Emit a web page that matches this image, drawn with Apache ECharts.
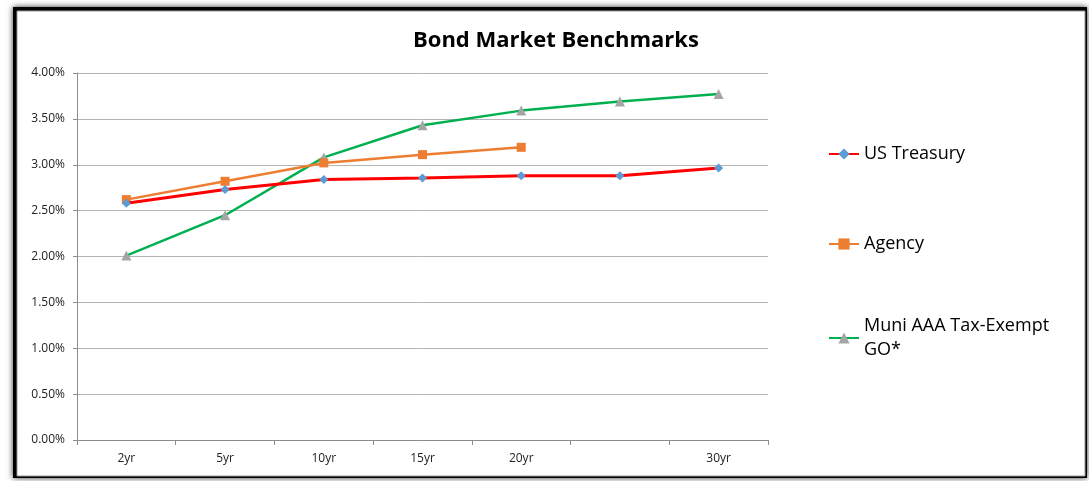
<!DOCTYPE html>
<html>
<head>
<meta charset="utf-8">
<script src="https://cdn.jsdelivr.net/npm/echarts@6/dist/echarts.min.js"></script>
<style>
html,body{margin:0;padding:0;background:#fff;}
#chart{width:1089px;height:481px;}
</style>
</head>
<body>
<div id="chart"></div>
<script>
const categories = ['2yr', '5yr', '10yr', '15yr', '20yr', '', '30yr'];
const usTreasury = [2.58, 2.73, 2.84, 2.855, 2.88, 2.88, 2.965];
const agency = [2.62, 2.82, 3.02, 3.11, 3.19, null, null];
const muni = [2.01, 2.45, 3.08, 3.43, 3.59, 3.69, 3.77];
const seriesNames = ['US Treasury', 'Agency', 'Muni AAA Tax-Exempt GO*'];
const yTicks = [0, 0.5, 1, 1.5, 2, 2.5, 3, 3.5, 4];

const FONT = 'Open Sans';
const legendText = {fontFamily: FONT, fontSize: 18, color: '#000', lineHeight: 24};
const chart = echarts.init(document.getElementById('chart'), null, {renderer: 'canvas'});
chart.setOption({
  animation: false,
  backgroundColor: '#fff',
  graphic: [
    {type: 'rect', z: -10, silent: true,
     shape: {x: 13, y: 7, width: 1074, height: 471},
     style: {fill: '#000', shadowBlur: 6, shadowColor: 'rgba(0,0,0,0.8)'}},
    {type: 'rect', z: -9, silent: true,
     shape: {x: 17, y: 11, width: 1068, height: 465},
     style: {fill: '#fff', stroke: '#9a9a9a', lineWidth: 1}}
  ],
  title: {
    text: 'Bond Market Benchmarks',
    left: 408, top: 25,
    textStyle: {fontFamily: FONT, fontWeight: 'bold', fontSize: 22, color: '#000'}
  },
  legend: [{
    orient: 'vertical',
    left: 823, top: 137,
    itemGap: 66,
    itemWidth: 30, itemHeight: 14,
    textStyle: legendText,
    data: [{name: seriesNames[0]}, {name: seriesNames[1]}]
  }, {
    orient: 'vertical',
    left: 823, top: 297,
    itemWidth: 30, itemHeight: 14,
    textStyle: legendText,
    data: [{name: seriesNames[2], textStyle: {padding: [24, 0, 0, 0]}}],
    formatter: function (n) { return 'Muni AAA Tax-Exempt\nGO*'; }
  }],
  grid: {left: 77, right: 321, top: 73, bottom: 41, containLabel: false},
  xAxis: {
    type: 'category',
    data: categories,
    boundaryGap: true,
    axisLine: {lineStyle: {color: '#8c8c8c'}},
    axisTick: {show: true, length: 5, lineStyle: {color: '#8c8c8c'}},
    axisLabel: {fontFamily: FONT, fontSize: 12, color: '#222', margin: 13}
  },
  yAxis: {
    type: 'value',
    min: 0, max: 4, interval: 0.5,
    axisLine: {show: true, lineStyle: {color: '#8c8c8c'}},
    axisTick: {show: true, length: 4, lineStyle: {color: '#8c8c8c'}},
    splitLine: {lineStyle: {color: '#b4b4b4'}},
    axisLabel: {fontFamily: FONT, fontSize: 12, color: '#222', margin: 12,
      formatter: v => v.toFixed(2) + '%'}
  },
  series: [
    {name: seriesNames[0], type: 'line', data: usTreasury,
     lineStyle: {color: '#ff0000', width: 3},
     itemStyle: {color: '#5b9bd5'},
     symbol: 'diamond', symbolSize: 9, showAllSymbol: true, z: 4},
    {name: seriesNames[1], type: 'line', data: agency,
     lineStyle: {color: '#ed7d31', width: 2.5},
     itemStyle: {color: '#ed7d31'},
     symbol: 'rect', symbolSize: 9, showAllSymbol: true, z: 3},
    {name: seriesNames[2], type: 'line', data: muni,
     lineStyle: {color: '#00b050', width: 2.5},
     itemStyle: {color: '#a5a5a5'},
     symbol: 'triangle', symbolSize: 10, showAllSymbol: true, z: 2}
  ]
});
</script>
</body>
</html>
